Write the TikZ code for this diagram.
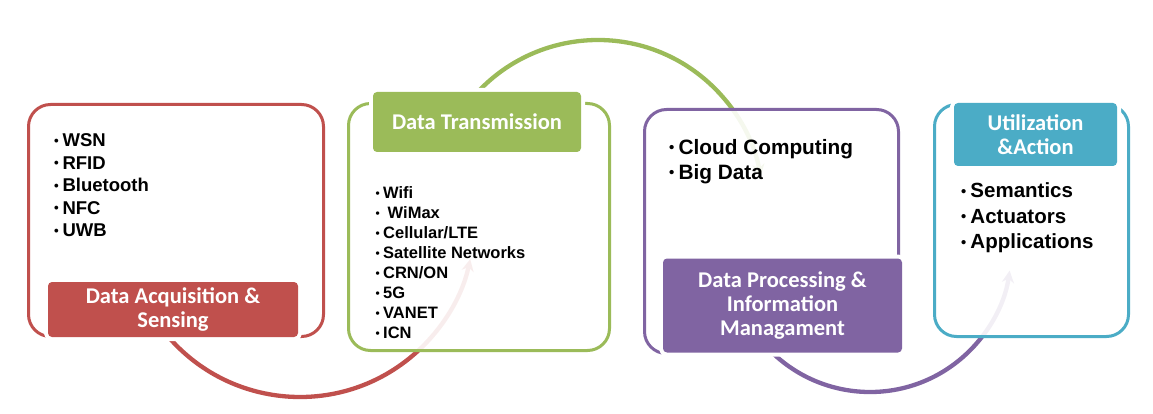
\documentclass[tikz,border=0pt]{standalone}
\usepackage{fontspec}
\setmainfont{Liberation Sans}
\newfontfamily\calfont{Carlito}
\usetikzlibrary{arrows.meta}
\definecolor{cRed}{HTML}{C0504D}
\definecolor{cGreen}{HTML}{9BBB59}
\definecolor{cPurple}{HTML}{8064A2}
\definecolor{cCyan}{HTML}{4BACC6}
\newcommand\bu{\raisebox{0.07em}{\scalebox{0.72}{•}}\hspace{0.2em}}
\begin{document}
\begin{tikzpicture}[x=1pt,y=1pt,
  frame/.style={draw=#1, line width=3pt, rounded corners=22pt, fill=white, fill opacity=0.9, inner sep=0pt},
  tag/.style={fill=#1, preaction={draw=white, line width=8pt}, rounded corners=4pt, inner sep=0pt,
    text=white, font=\calfont\bfseries\fontsize{22.5}{24}\selectfont, align=center},
  flow/.style={draw=#1, line width=4.3pt, -{Stealth[length=12pt,width=12pt]}},
  items/.style={anchor=north west, inner sep=0pt, align=left, text=black}
]
\useasboundingbox (0,0) rectangle (1153,-414);

% arc centres
\coordinate (rc) at (300,-223);
\coordinate (gc) at (598,-205);
\coordinate (pc) at (870,-251);

% connectors (drawn behind the frames)
\draw[flow=cRed] (rc) ++(-140:174) arc[start angle=-140, end angle=-12, radius=174];
\draw[flow=cGreen] (gc) ++(140:165) arc[start angle=140, end angle=10, radius=165];
\draw[flow=cPurple] (pc) ++(-140:141) arc[start angle=-140, end angle=-8, radius=141];

% frames
\node[frame=cRed, minimum width=295, minimum height=232] (f1) at (176,-220.5) {};
\node[frame=cGreen, minimum width=261, minimum height=247] (f2) at (479,-227) {};
\node[frame=cPurple, minimum width=254, minimum height=244] (f3) at (771.5,-231.5) {};
\node[frame=cCyan, minimum width=194, minimum height=232] (f4) at (1031.5,-220.5) {};

% tags
\node[tag=cRed, minimum width=250, minimum height=55] (t1) at (173,-309.5) {Data Acquisition \&\\Sensing};
\node[tag=cGreen, minimum width=208, minimum height=60] (t2) at (477,-122) {Data Transmission};
\node[tag=cPurple, minimum width=239, minimum height=94] (t3) at (782.5,-305.5) {Data Processing \&\\Information\\Managament};
\node[tag=cCyan, minimum width=163, minimum height=63] (t4) at (1035.5,-134.5) {Utilization\\\&Action};

% item lists
\node[items, font=\bfseries\fontsize{18.5}{22.5}\selectfont] (l1) at (54,-133.4)
  {\bu WSN\\\bu RFID\\\bu Bluetooth\\\bu NFC\\\bu UWB};
\node[items, font=\bfseries\fontsize{16.5}{20}\selectfont] (l2) at (375.5,-186)
  {\bu Wifi\\\bu\ WiMax\\\bu Cellular/LTE\\\bu Satellite Networks\\\bu CRN/ON\\\bu 5G\\\bu VANET\\\bu ICN};
\node[items, font=\bfseries\fontsize{20.8}{25}\selectfont] (l3) at (669,-139)
  {\bu Cloud Computing\\\bu Big Data};
\node[items, font=\bfseries\fontsize{20.5}{25.5}\selectfont] (l4) at (961,-182.6)
  {\bu Semantics\\\bu Actuators\\\bu Applications};
\end{tikzpicture}
\end{document}
